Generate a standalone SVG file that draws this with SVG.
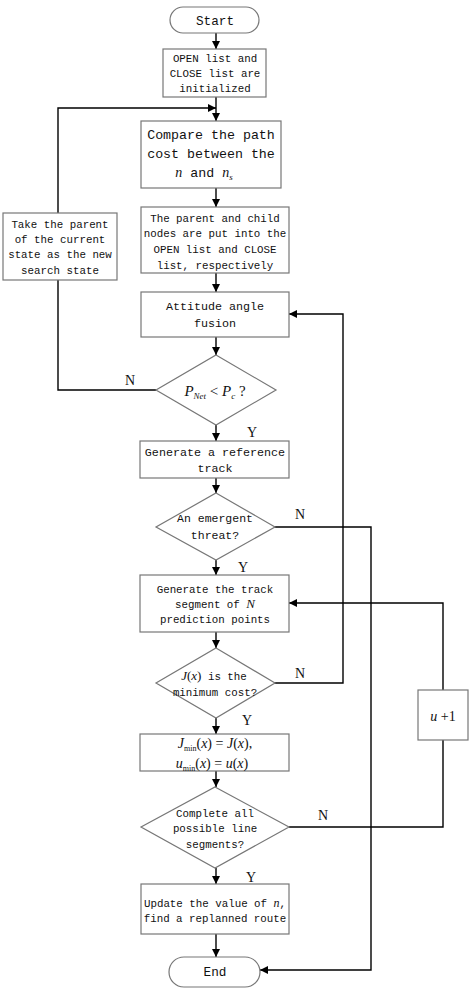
<svg xmlns="http://www.w3.org/2000/svg" width="474" height="989" viewBox="0 0 474 989">
<style>
.b{fill:#fff;stroke:#777;stroke-width:1.2}
.c{fill:none;stroke:#000;stroke-width:1.4}
.t{font-family:"Liberation Mono",monospace;font-size:10.8px;fill:#111;text-anchor:middle}
.m{font-family:"Liberation Serif",serif;font-style:italic;fill:#111}
.r{font-family:"Liberation Serif",serif;font-style:normal;fill:#111}
.l{font-family:"Liberation Serif",serif;font-size:14px;fill:#111}
</style>
<defs>
<marker id="a" viewBox="0 0 10 10" refX="10" refY="5" markerWidth="8" markerHeight="8" markerUnits="userSpaceOnUse" orient="auto"><path d="M0,0L10,5L0,10z" fill="#000"/></marker>
</defs>
<rect width="474" height="989" fill="#fff"/>
<g id="connectors" class="c">
<path d="M216,33V49" marker-end="url(#a)"/>
<path d="M216,97V121" marker-end="url(#a)"/>
<path d="M58,213V108H216" marker-end="url(#a)"/>
<path d="M216,188V207" marker-end="url(#a)"/>
<path d="M216,273V292" marker-end="url(#a)"/>
<path d="M216,337V355" marker-end="url(#a)"/>
<path d="M156,390H58V280"/>
<path d="M216,425V441" marker-end="url(#a)"/>
<path d="M216,478V493" marker-end="url(#a)"/>
<path d="M274,527H371V970H260" marker-end="url(#a)"/>
<path d="M216,560V575" marker-end="url(#a)"/>
<path d="M216,632V648" marker-end="url(#a)"/>
<path d="M274,683H343V314H289" marker-end="url(#a)"/>
<path d="M216,718V734" marker-end="url(#a)"/>
<path d="M216,771V787" marker-end="url(#a)"/>
<path d="M289,827H443V740"/>
<path d="M443,690V603H289" marker-end="url(#a)"/>
<path d="M216,868V884" marker-end="url(#a)"/>
<path d="M216,934V957" marker-end="url(#a)"/>
</g>
<g id="labels">
<text class="l" x="130" y="385" text-anchor="middle">N</text>
<text class="l" x="252" y="437" text-anchor="middle">Y</text>
<text class="l" x="300" y="519" text-anchor="middle">N</text>
<text class="l" x="243" y="572" text-anchor="middle">Y</text>
<text class="l" x="300" y="678" text-anchor="middle">N</text>
<text class="l" x="247" y="725" text-anchor="middle">Y</text>
<text class="l" x="323" y="820" text-anchor="middle">N</text>
<text class="l" x="251" y="882" text-anchor="middle">Y</text>
</g>
<g id="start">
<rect class="b" x="170" y="7" width="89" height="26" rx="13"/>
<text class="t" x="215" y="25" style="font-size:12.7px">Start</text>
</g>
<g id="init">
<rect class="b" x="163" y="49" width="103" height="48"/>
<text class="t" x="215" y="62">OPEN list and</text>
<text class="t" x="215" y="77">CLOSE list are</text>
<text class="t" x="215" y="92">initialized</text>
</g>
<g id="compare">
<rect class="b" x="141" y="121" width="140" height="67"/>
<text class="t" x="211" y="139" style="font-size:13.3px">Compare the path</text>
<text class="t" x="211" y="158" style="font-size:13.3px">cost between the</text>
<text class="t" x="204" y="177" style="font-size:13.3px"><tspan class="m" font-size="14">n</tspan> and <tspan class="m" font-size="14">n</tspan><tspan class="m" font-size="9" dy="3">s</tspan></text>
</g>
<g id="lists">
<rect class="b" x="141" y="207" width="148" height="66"/>
<text class="t" x="215" y="222">The parent and child</text>
<text class="t" x="215" y="237">nodes are put into the</text>
<text class="t" x="215" y="253">OPEN list and CLOSE</text>
<text class="t" x="215" y="269">list, respectively</text>
</g>
<g id="takeparent">
<rect class="b" x="3" y="213" width="114" height="67"/>
<text class="t" x="60" y="228">Take the parent</text>
<text class="t" x="60" y="243">of the current</text>
<text class="t" x="60" y="258">state as the new</text>
<text class="t" x="60" y="274">search state</text>
</g>
<g id="attitude">
<rect class="b" x="141" y="292" width="148" height="45"/>
<text class="t" x="215" y="310" style="font-size:11.7px">Attitude angle</text>
<text class="t" x="215" y="327" style="font-size:11.7px">fusion</text>
</g>
<g id="d1">
<path class="b" d="M216,355L276,390L216,425L156,390Z"/>
<text class="m" x="215" y="396" text-anchor="middle" font-size="15">P<tspan font-size="9" dy="3">Net</tspan><tspan class="r" dy="-3"> &lt; </tspan>P<tspan font-size="9" dy="3">c</tspan><tspan class="r" dy="-3"> ?</tspan></text>
</g>
<g id="reftrack">
<rect class="b" x="140" y="441" width="149" height="37"/>
<text class="t" x="215" y="456" style="font-size:11.7px">Generate a reference</text>
<text class="t" x="215" y="472" style="font-size:11.7px">track</text>
</g>
<g id="d2">
<path class="b" d="M216,493L275,527L216,560L156,527Z"/>
<text class="t" x="215" y="522" style="font-size:11.5px">An emergent</text>
<text class="t" x="215" y="539" style="font-size:11.5px">threat?</text>
</g>
<g id="segment">
<rect class="b" x="140" y="575" width="149" height="57"/>
<text class="t" x="215" y="593">Generate the track</text>
<text class="t" x="215" y="608">segment of <tspan class="m" font-size="13">N</tspan></text>
<text class="t" x="215" y="623">prediction points</text>
</g>
<g id="d3">
<path class="b" d="M216,648L275,683L216,718L156,683Z"/>
<text class="t" x="214" y="680"><tspan class="m" font-size="13">J</tspan><tspan class="r" font-size="13">(</tspan><tspan class="m" font-size="13">x</tspan><tspan class="r" font-size="13">)</tspan> is the</text>
<text class="t" x="215" y="696">minimum cost?</text>
</g>
<g id="jmin">
<rect class="b" x="140" y="734" width="149" height="37"/>
<text class="m" x="215" y="748" text-anchor="middle" font-size="14">J<tspan font-size="8" dy="3" class="r">min</tspan><tspan class="r" dy="-3">(</tspan>x<tspan class="r">) = </tspan>J<tspan class="r">(</tspan>x<tspan class="r">),</tspan></text>
<text class="m" x="212" y="768" text-anchor="middle" font-size="14">u<tspan font-size="8" dy="3" class="r">min</tspan><tspan class="r" dy="-3">(</tspan>x<tspan class="r">) = </tspan>u<tspan class="r">(</tspan>x<tspan class="r">)</tspan></text>
</g>
<g id="uplus1">
<rect class="b" x="418" y="690" width="50" height="50"/>
<text class="m" x="443" y="721" text-anchor="middle" font-size="14">u<tspan class="r"> +1</tspan></text>
</g>
<g id="d4">
<path class="b" d="M215,787L289,827L215,868L141,827Z"/>
<text class="t" x="215" y="817">Complete all</text>
<text class="t" x="215" y="832">possible line</text>
<text class="t" x="215" y="848">segments?</text>
</g>
<g id="update">
<rect class="b" x="141" y="884" width="148" height="50"/>
<text class="t" x="215" y="907">Update the value of <tspan class="m" font-size="12">n</tspan>,</text>
<text class="t" x="215" y="922">find a replanned route</text>
</g>
<g id="end">
<rect class="b" x="169" y="957" width="91" height="30" rx="15"/>
<text class="t" x="215" y="976" style="font-size:12.7px">End</text>
</g>
</svg>
